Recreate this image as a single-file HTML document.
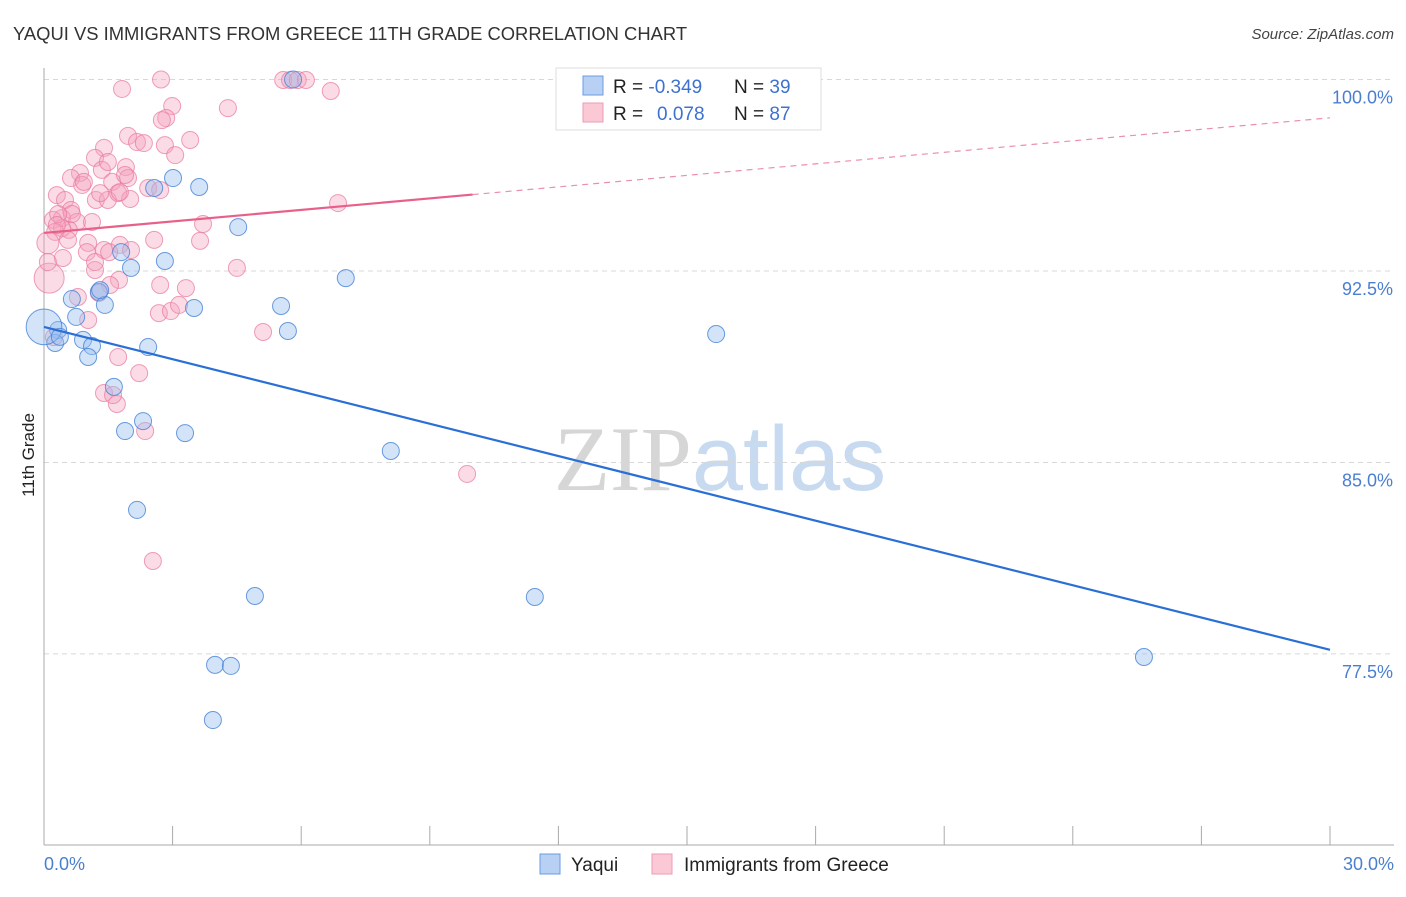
<!DOCTYPE html>
<html><head><meta charset="utf-8"><style>
body{margin:0;background:#fff;font-family:"Liberation Sans",sans-serif;}
svg text{font-family:"Liberation Sans",sans-serif;}
</style></head><body>
<svg id="chart" width="1406" height="892" xmlns="http://www.w3.org/2000/svg">
<text x="13" y="40" font-size="18.4" fill="#333">YAQUI VS IMMIGRANTS FROM GREECE 11TH GRADE CORRELATION CHART</text>
<text x="1394" y="39" font-size="15" fill="#444" text-anchor="end" font-style="italic">Source: ZipAtlas.com</text>
<text x="720" y="490" font-size="92" text-anchor="middle"><tspan fill="#d6d6d6" font-family="Liberation Serif">ZIP</tspan><tspan fill="#c8daf0">atlas</tspan></text>
<g id="grid"></g>
<g id="marks"></g>
<text transform="translate(34,455) rotate(-90)" font-size="17" fill="#222" text-anchor="middle">11th Grade</text>
<g>
<rect x="556" y="68" width="265" height="62" fill="#fff" stroke="#ddd"/>
<rect x="583" y="76" width="20" height="19" fill="#b7d0f3" stroke="#6a9be0"/>
<rect x="583" y="103" width="20" height="19" fill="#fbc8d6" stroke="#ee9db6"/>
<text x="613" y="93" font-size="19" fill="#222">R = <tspan fill="#3d72cf">-0.349</tspan></text>
<text x="734" y="93" font-size="19" fill="#222">N = <tspan fill="#3d72cf">39</tspan></text>
<text x="613" y="120" font-size="19" fill="#222">R = <tspan fill="#3d72cf" x="657">0.078</tspan></text>
<text x="734" y="120" font-size="19" fill="#222">N = <tspan fill="#3d72cf">87</tspan></text>
</g>
<g>
<rect x="540" y="854" width="20" height="20" fill="#b7d0f3" stroke="#6a9be0"/>
<text x="571" y="871" font-size="19" fill="#222">Yaqui</text>
<rect x="652" y="854" width="20" height="20" fill="#fbc8d6" stroke="#ee9db6"/>
<text x="684" y="871" font-size="19" fill="#222">Immigrants from Greece</text>
</g>
</svg>
<script>
const yTicks=[100,92.5,85,77.5];
const yTickLabels=["100.0%","92.5%","85.0%","77.5%"];
const xTicks=[0,3,6,9,12,15,18,21,24,27,30];
const blueX=[5.81,3.01,3.62,2.57,4.53,1.80,2.82,2.03,7.04,0.65,1.28,1.42,3.50,5.53,5.69,15.68,0.75,0.33,0.26,0.91,1.12,2.43,1.03,1.63,2.31,1.89,3.29,8.09,2.17,4.92,11.45,3.99,4.36,25.66,3.94,0,0.37,1.31];
const blueY=[100.0,96.14,95.79,95.75,94.22,93.24,92.89,92.62,92.22,91.40,91.68,91.17,91.05,91.13,90.15,90.03,90.70,90.19,89.68,89.80,89.56,89.52,89.13,87.96,86.62,86.23,86.15,85.45,83.14,79.77,79.73,77.07,77.03,77.38,74.91,90.31,89.92,91.75];
const blueW=[1,1,1,1,1,1,1,1,1,1,1,1,1,1,1,1,1,1,1,1,1,1,1,1,1,1,1,1,1,1,1,1,1,1,1,2.1,1,1];
const pinkX=[2.73,1.82,5.58,5.74,5.92,6.11,6.69,2.99,2.85,2.75,4.29,1.96,1.40,2.17,3.41,2.82,1.19,1.91,1.35,0.84,0.63,0.89,1.59,1.96,2.43,2.71,0.30,0.49,1.21,1.49,1.73,2.01,0.63,0.42,0.21,0.77,1.12,0.58,0.42,0.26,0.09,1.03,1.77,2.57,3.64,3.71,6.86,1.40,1.00,0.44,1.19,4.50,0.12,1.75,2.71,3.31,1.54,1.28,0.79,1.03,2.68,2.96,3.15,5.11,0.23,1.73,2.22,1.40,1.70,2.36,9.87,2.54,1.61,0.93,1.77,1.31,0.65,0.33,0.30,2.03,1.52,1.19,0.56,0.09,1.89,1.49,2.33,3.06];
const pinkY=[100.0,99.63,99.98,99.98,99.98,99.98,99.55,98.96,98.49,98.41,98.88,97.79,97.32,97.55,97.63,97.43,96.93,96.57,96.46,96.34,96.14,95.87,95.99,96.14,95.75,95.67,95.47,95.28,95.28,95.28,95.55,95.32,94.89,94.57,94.50,94.42,94.42,94.11,94.18,94.03,93.60,93.60,93.52,93.72,93.68,94.34,95.16,93.32,93.24,93.01,92.54,92.62,92.22,92.15,91.95,91.83,91.95,91.64,91.48,90.58,90.85,90.93,91.17,90.11,89.91,89.13,88.50,87.72,87.29,86.23,84.55,81.14,87.64,95.99,95.59,95.55,94.73,94.73,94.30,93.32,93.24,92.85,93.72,92.85,96.26,96.77,97.51,97.04];
const blueTrend=[90.31,77.66];
const pinkTrend=[93.99,98.5];
const NS="http://www.w3.org/2000/svg";
const X=v=>44+(v/30)*1286;
const Y=v=>79.5+(100-v)*25.53;
function mk(tag,attrs,parent){const e=document.createElementNS(NS,tag);for(const k in attrs)e.setAttribute(k,attrs[k]);parent.appendChild(e);return e;}
const grid=document.getElementById('grid'),marks=document.getElementById('marks');
yTicks.forEach((t,i)=>{
 const l=mk('line',{x1:44,x2:1394,y1:Y(t),y2:Y(t),stroke:'#d8d8d8','stroke-dasharray':'5,4'},grid);
 
 
 const tx=mk('text',{x:1393,y:Y(t)+24,'font-size':18,fill:'#4a7fd0','text-anchor':'end'},grid);
 tx.textContent=yTickLabels[i];
 
 
});
const ax=mk('line',{x1:44,x2:44,y1:68,y2:845,stroke:'#aaa'},grid);


const bx=mk('line',{x1:44,x2:1394,y1:845,y2:845,stroke:'#aaa'},grid);


xTicks.forEach(t=>{
 const l=mk('line',{x1:X(t),x2:X(t),y1:826,y2:845,stroke:'#aaa'},grid);
 
 
});
const xl0=mk('text',{x:44,y:870,'font-size':18,fill:'#4a7fd0'},grid);xl0.textContent=xTicks[0].toFixed(1)+'%';


const xl1=mk('text',{x:1394,y:870,'font-size':18,fill:'#4a7fd0','text-anchor':'end'},grid);xl1.textContent=xTicks[xTicks.length-1].toFixed(1)+'%';


pinkX.forEach((v,i)=>{
 const r=i==52?15:(i==40?11:8.5);
 const c=mk('circle',{cx:X(v),cy:Y(pinkY[i]),r:r,fill:'rgba(245,160,188,0.38)',stroke:'rgba(232,120,155,0.7)','stroke-width':1},marks);
 
 
});
blueX.forEach((v,i)=>{
 const c=mk('circle',{cx:X(v),cy:Y(blueY[i]),r:8.5*blueW[i],fill:'rgba(150,190,240,0.42)',stroke:'rgba(70,130,215,0.8)','stroke-width':1},marks);
 
 
});
const bl=mk('line',{x1:X(0),y1:Y(blueTrend[0]),x2:X(30),y2:Y(blueTrend[1]),stroke:'#2a6fd6','stroke-width':2.2},marks);


const pm=pinkTrend[0]+(pinkTrend[1]-pinkTrend[0])*(10/30);
const pl=mk('line',{x1:X(0),y1:Y(pinkTrend[0]),x2:X(10),y2:Y(pm),stroke:'#e8608a','stroke-width':2.2},marks);


const pd=mk('line',{x1:X(10),y1:Y(pm),x2:X(30),y2:Y(pinkTrend[1]),stroke:'#ec8fab','stroke-width':1.2,'stroke-dasharray':'6,5'},marks);


</script>
</body></html>
